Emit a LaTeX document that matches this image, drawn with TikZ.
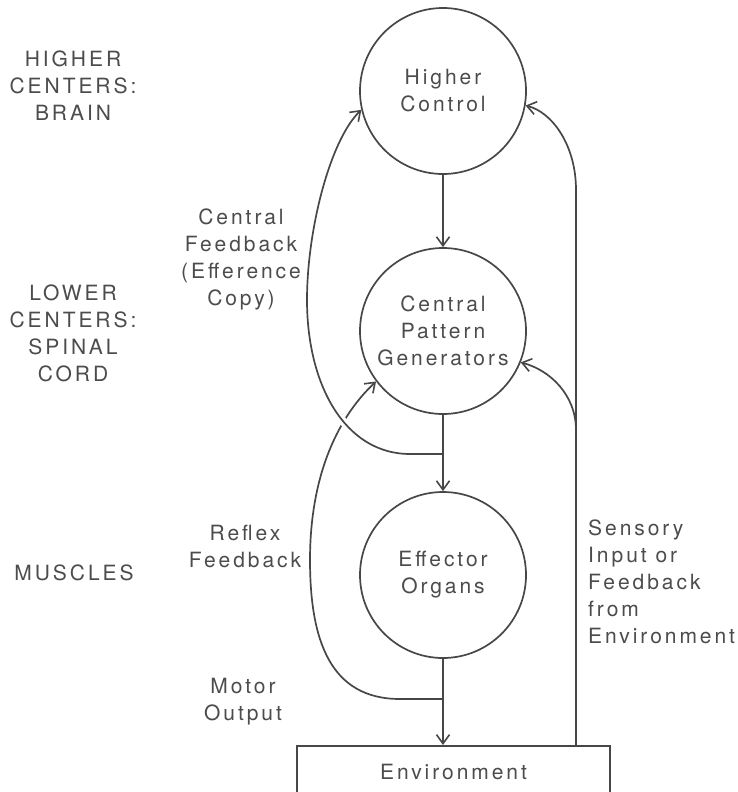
\documentclass[tikz,border=0pt]{standalone}
\usepackage{fontspec}
\setmainfont{TeX Gyre Heros}[LetterSpace=14]
\usetikzlibrary{arrows.meta}
\begin{document}
\begin{tikzpicture}[x=1pt,y=1pt,
  ink/.style={draw=black!72, line width=1.7pt},
  arr/.style={ink, -{Straight Barb[length=9pt,width=13pt,line width=1.6pt]}},
  lbl/.style={text=black!70, font=\fontsize{21}{27}\selectfont, align=center, inner sep=0pt},
  stage/.style={circle, ink, minimum size=166pt, inner sep=0pt, lbl},
]
\useasboundingbox (0,0) rectangle (737,-792);
\clip (0,0) rectangle (737,-792);
\fill[white] (0,0) rectangle (737,-792);

\node[stage] (hc) at (443,-91) {Higher\\Control};
\node[stage] (cpg) at (443,-331) {Central\\Pattern\\Generators};
\node[stage] (eo) at (443,-575) {Effector\\Organs};
\node[ink, lbl, rectangle, anchor=north, minimum width=313pt, minimum height=52pt] (env) at (453.5,-745) {Environment};

\coordinate (j1) at (443,-454);
\coordinate (j2) at (443,-699);
\coordinate (s0) at (576,-745);
\coordinate (s1) at (576,-430);

% reflex feedback
\draw[arr] (j2) -- (400,-699) .. controls (330,-699) and (310,-640) .. (310,-560) .. controls (310,-480) and (335,-420) .. (cpg.217);
% gap where central feedback crosses
\draw[white, line width=8pt] (410,-454) .. controls (345,-454) and (307,-385) .. (307,-300);
% central feedback
\draw[arr] (j1) -- (410,-454) .. controls (345,-454) and (307,-385) .. (307,-300) .. controls (307,-230) and (330,-140) .. (hc.193);
% sensory input
\draw[arr] (s0) -- (576,-190) .. controls (576,-145) and (552,-112) .. (hc.350);
\draw[arr] (s1) .. controls (576,-395) and (550,-370) .. (cpg.338);

% main chain
\draw[arr] (hc) -- (cpg);
\draw[arr] (cpg) -- (eo);
\draw[arr] (eo.south) -- (eo.south |- env.north);

% labels
\node[lbl] (hcl) at (73,-86) {HIGHER\\CENTERS:\\BRAIN};
\node[lbl] (lcl) at (73,-333) {LOWER\\CENTERS:\\SPINAL\\CORD};
\node[lbl] (ml) at (74,-573) {MUSCLES};
\node[lbl] (cfl) at (241,-259) {Central\\Feedback\\(Efference\\Copy)};
\node[lbl] (rfl) at (245,-546) {Reflex\\Feedback};
\node[lbl] (mol) at (243,-702) {Motor\\Output};
\node[lbl, align=left, anchor=west] (sil) at (588,-582) {Sensory\\Input or\\Feedback\\from\\Environment};
\end{tikzpicture}
\end{document}
